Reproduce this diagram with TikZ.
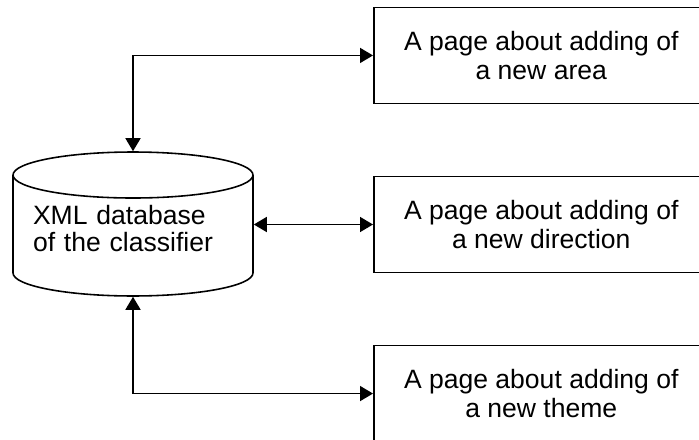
\documentclass[tikz,border=0pt]{standalone}
\usepackage{fontspec}
\setmainfont{Liberation Sans}
\usetikzlibrary{shapes.geometric, arrows.meta, positioning}

\begin{document}
\begin{tikzpicture}[x=0.02cm, y=-0.02cm,
    db/.style={cylinder, shape border rotate=90, shape aspect=0.23, draw=black, line width=0.9pt,
        minimum width=4.8cm, minimum height=2.88cm, inner sep=0pt,
        font=\fontsize{15.1}{15.5}\selectfont, text width=4cm, align=left, text depth=0.86cm},
    page/.style={rectangle, draw=black, line width=0.9pt,
        minimum width=6.7cm, minimum height=1.92cm, inner sep=0pt,
        font=\fontsize{15.1}{17}\selectfont, align=center},
    arr/.style={{Triangle[length=2.6mm, width=3mm]}-{Triangle[length=2.6mm, width=3mm]}, line width=0.9pt},
]
\useasboundingbox (0,0) rectangle (699,439);
\clip (0,0) rectangle (699,439);

% Database
\node[db, anchor=shape center] (DB) at (133,224) {XML database\\of the classifier};

% Pages
\node[page, anchor=west] (DIR) at (373,224.5) {A page about adding of\\a new direction};
\node[page, above=1.43cm of DIR] (AREA) {A page about adding of\\a new area};
\node[page, below=1.43cm of DIR] (THM) {A page about adding of\\a new theme};

% Links
\draw[arr] (DB.north) |- (AREA.west);
\draw[arr] (DIR.west -| DB.east) -- (DIR.west);
\draw[arr] (DB.south) |- (THM.west);
\end{tikzpicture}
\end{document}
